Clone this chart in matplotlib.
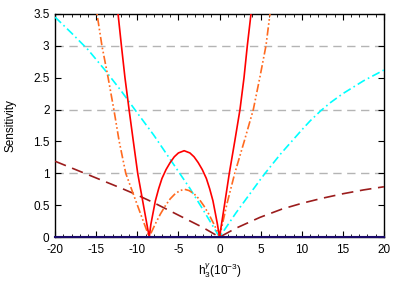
import matplotlib
matplotlib.use("Agg")
import matplotlib.pyplot as plt
from matplotlib.ticker import MultipleLocator

plt.rcParams['font.family'] = ['Liberation Sans', 'DejaVu Sans']
plt.rcParams['mathtext.fontset'] = 'custom'
plt.rcParams['mathtext.rm'] = 'Liberation Sans'
plt.rcParams['mathtext.it'] = 'Liberation Sans:italic'
plt.rcParams['axes.unicode_minus'] = False

# red solid curve
red_x = [-12.7, -12.34, -11.93, -11.5, -11.0, -10.5, -9.95, -9.25, -8.55,
         -8.35, -8.1, -7.8, -7.4, -7.0, -6.5, -6.0, -5.5, -5.0, -4.3,
         -3.6, -3.1, -2.6, -2.1, -1.6, -1.2, -0.8, -0.5, -0.25, 0.0,
         0.6, 1.19, 1.85, 2.49, 2.98, 3.38, 3.83, 4.2]
red_y = [4.0, 3.5, 3.0, 2.5, 2.0, 1.52, 1.0, 0.5, 0.0,
         0.2, 0.37, 0.57, 0.76, 0.92, 1.06, 1.17, 1.26, 1.32, 1.355,
         1.32, 1.26, 1.17, 1.06, 0.92, 0.76, 0.57, 0.37, 0.2, 0.0,
         0.5, 1.0, 1.5, 2.0, 2.5, 3.0, 3.5, 4.0]

# orange dash-dot-dot curve
orange_x = [-15.4, -14.9, -14.3, -13.55, -12.85, -12.2, -11.4, -10.5, -9.5, -8.55,
            -8.2, -7.8, -7.2, -6.6, -6.0, -5.4, -4.8, -4.25, -3.7, -3.1, -2.5, -1.9, -1.3, -0.7, -0.3, 0.0,
            0.9, 1.85, 3.0, 4.11, 4.9, 5.65, 6.14, 6.6]
orange_y = [4.0, 3.5, 3.0, 2.5, 2.0, 1.5, 1.0, 0.68, 0.33, 0.0,
            0.1, 0.21, 0.36, 0.49, 0.6, 0.68, 0.73, 0.75, 0.73, 0.68, 0.6, 0.49, 0.36, 0.21, 0.1, 0.0,
            0.52, 1.0, 1.5, 2.0, 2.5, 3.0, 3.5, 4.0]

# cyan dash-dot curve
cyan_x = [-20, -18, -16, -14, -12, -10.3, -8, -6, -3.58, -2, 0,
          2, 4.92, 5.6, 7.4, 10, 11, 12.3, 13.5, 15, 17.5, 20]
cyan_y = [3.45, 3.2, 2.94, 2.63, 2.3, 2.0, 1.6, 1.22, 0.76, 0.43, 0.0,
          0.38, 0.895, 1.01, 1.3, 1.68, 1.82, 1.98, 2.11, 2.25, 2.45, 2.62]

# dark red dashed curve
brown_x = [-20, -16, -12, -10, -8, -6, -4, -2, 0,
           2, 4.92, 7.6, 10, 12.5, 15, 17.5, 20]
brown_y = [1.19, 0.98, 0.77, 0.66, 0.54, 0.41, 0.28, 0.15, 0.0,
           0.14, 0.31, 0.44, 0.53, 0.61, 0.68, 0.74, 0.79]

# navy curve lying on zero
navy_x = [-20, 20]
navy_y = [0.0, 0.0]

fig = plt.figure(figsize=(4.05, 2.84), dpi=100)
ax = fig.add_axes([0.136, 0.165, 0.812, 0.786])

for yg in [1, 2, 3]:
    ax.axhline(yg, color='#b4b4b4', lw=1.0, dashes=(6, 4), zorder=1)

ax.plot(brown_x, brown_y, color='#9b1c1c', lw=1.2, dashes=(7, 4), zorder=3)
ax.plot(cyan_x, cyan_y, color='#00ffff', lw=1.2, dashes=(5, 2, 1, 2), zorder=3)
ax.plot(orange_x, orange_y, color='#ff6a20', lw=1.2, dashes=(5, 1.5, 1, 1.5, 1, 1.5), zorder=4)
ax.plot(red_x, red_y, color='#ff0000', lw=1.2, zorder=5)
ax.plot(navy_x, navy_y, color='#1a0a6a', lw=1.5, zorder=6, clip_on=False)

ax.set_xlim(-20, 20)
ax.set_ylim(0, 3.5)
ax.xaxis.set_major_locator(MultipleLocator(5))
ax.xaxis.set_minor_locator(MultipleLocator(1))
ax.set_yticks([0, 0.5, 1, 1.5, 2, 2.5, 3, 3.5])
ax.set_yticklabels(['0', '0.5', '1', '1.5', '2', '2.5', '3', '3.5'])
ax.tick_params(which='both', direction='in', top=True, right=True, labelsize=8.5)
ax.tick_params(axis='x', pad=5)
ax.tick_params(axis='y', pad=4)
ax.tick_params(which='major', length=4)
ax.tick_params(which='minor', length=2)

for s in ax.spines.values():
    s.set_linewidth(1.0)

ax.set_xlabel(r'h$_3^{\gamma}$(10$^{-3}$)', fontsize=8.5, labelpad=4)
ax.set_ylabel('Sensitivity', fontsize=8.5, labelpad=12)

fig.savefig('out.png', dpi=100)
